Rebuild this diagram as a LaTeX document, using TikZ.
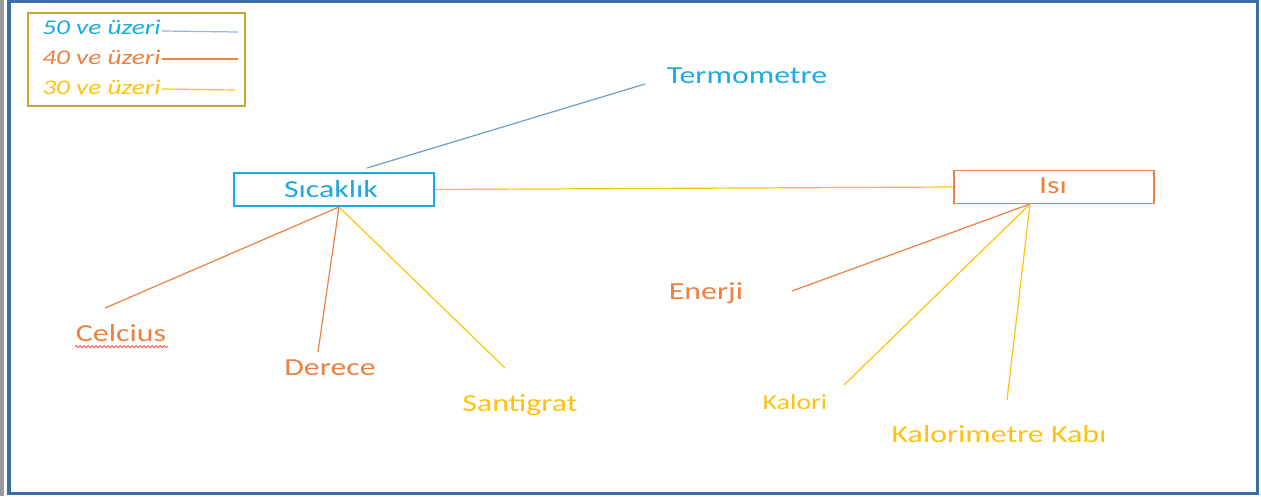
\documentclass[tikz,border=0pt]{standalone}
\usepackage{fontspec}
\setmainfont{Carlito}
\usetikzlibrary{decorations.pathmorphing}
\definecolor{tblue}{HTML}{1AABE6}
\definecolor{torange}{HTML}{EE8040}
\definecolor{tyellow}{HTML}{FFC20E}
\definecolor{lblue}{HTML}{6A9FD3}
\definecolor{framebl}{HTML}{3A6EA8}
\definecolor{legbord}{HTML}{C9A230}
\definecolor{legblue}{HTML}{94B8DF}
\tikzset{
  lbl/.style={inner sep=0pt, font=\fontsize{24.5}{28}\selectfont, xscale=1.3},
  leg/.style={inner sep=0pt, anchor=west, font=\fontsize{21}{24}\selectfont\itshape, xscale=1.3},
  conn/.style={line width=1.2pt},
  boxn/.style={draw, line width=1.5pt, minimum width=200pt, minimum height=33pt, inner sep=0pt}
}
\begin{document}
\begin{tikzpicture}[x=1pt,y=-1pt]
\useasboundingbox (0,0) rectangle (1261,496);
\fill[white] (0,0) rectangle (1261,496);
% frame
\fill[gray!80] (0,0) rectangle (3.5,496);
\draw[framebl, line width=3.2pt] (9,1.6) rectangle (1257.5,493.4);
% legend
\draw[legbord, line width=1.5pt] (28,13) rectangle (245,106);
\node[leg, text=tblue] (l50) at (42,27) {50 ve üzeri};
\node[leg, text=torange] (l40) at (42,57) {40 ve üzeri};
\node[leg, text=tyellow] (l30) at (42,87) {30 ve üzeri};
\coordinate (e50) at (238,32);
\coordinate (e40) at (238,59);
\coordinate (e30) at (235,90);
\draw[legblue, conn] (162,31) -- (e50);
\draw[torange, conn] (162,59) -- (e40);
\draw[tyellow, conn] (162,89) -- (e30);
% boxes
\node[boxn, draw=tblue] (sic) at (334,189.5) {};
\node[lbl, text=tblue] (sict) at (331,189) {Sıcaklık};
\node[boxn, draw=torange] (isi) at (1054,187) {};
\node[lbl, text=torange] (isit) at (1053,186) {Isı};
% labels
\node[lbl, text=tblue] (term) at (747,76) {Termometre};
\node[lbl, text=torange] (cel) at (121,333) {Celcius};
\node[lbl, text=torange] (der) at (330,368) {Derece};
\node[lbl, text=tyellow] (san) at (520,405) {Santigrat};
\node[lbl, text=torange] (ene) at (706,293) {Enerji};
\node[lbl, text=tyellow, font=\fontsize{21.5}{25}\selectfont] (kal) at (795,402) {Kalori};
\node[lbl, text=tyellow] (kkab) at (999,434) {Kalorimetre Kabı};
\draw[red!80, line width=0.7pt, decorate, decoration={snake, amplitude=1pt, segment length=4pt}] (75,346.5) -- (168,346.5);
% connector endpoints
\coordinate (sT) at (367,168);
\coordinate (tT) at (645,84);
\coordinate (sB) at (339,207);
\coordinate (cE) at (105,308);
\coordinate (dE) at (318,352);
\coordinate (saE) at (505,368);
\coordinate (iB) at (1030,204);
\coordinate (eE) at (792,291);
\coordinate (kE) at (844,385);
\coordinate (kkE) at (1007,400);
% connectors
\draw[lblue, conn] (sT) -- (tT);
\draw[tyellow, conn] (sic.east) -- (isi.west);
\draw[torange, conn] (sB) -- (cE);
\draw[torange, conn] (sB) -- (dE);
\draw[tyellow, conn] (sB) -- (saE);
\draw[torange, conn] (iB) -- (eE);
\draw[tyellow, conn] (iB) -- (kE);
\draw[tyellow, conn] (iB) -- (kkE);
\end{tikzpicture}
\end{document}
